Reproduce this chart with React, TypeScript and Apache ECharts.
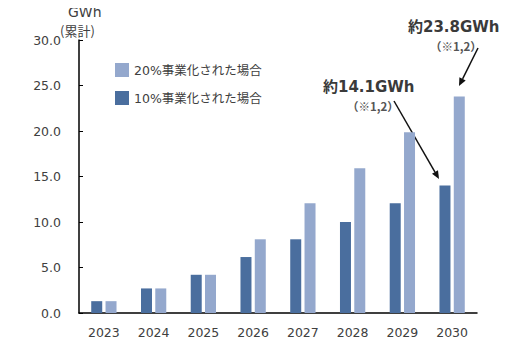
import React, { useEffect, useRef } from "react";
import * as echarts from "echarts";

const years = ["2023", "2024", "2025", "2026", "2027", "2028", "2029", "2030"];
const name10 = "10%事業化された場合";
const name20 = "20%事業化された場合";
const values10 = [1.3, 2.7, 4.2, 6.15, 8.1, 10.0, 12.05, 14.0];
const values20 = [1.3, 2.7, 4.2, 8.1, 12.05, 15.9, 19.85, 23.8];
const unitLabel = "GWh";
const unitSub = "(累計)";
const note1 = "約23.8GWh";
const note2 = "約14.1GWh";
const noteRef = "（※1,2）";

const FONT = "'DejaVu Sans', 'Noto Sans CJK JP', sans-serif";
const NOTE_FONT = "'Noto Sans CJK JP', 'Noto Sans', sans-serif";
const TXT = "#404040";
const DARK = "#4a6e9e";
const LIGHT = "#94a8cd";

export default function App() {
  const ref = useRef<HTMLDivElement>(null);
  useEffect(() => {
    if (!ref.current) return;
    const chart = echarts.init(ref.current, null, { renderer: "svg" });
    const txt = (text: string, x: number, y: number, font: string, fill = TXT) => ({
      type: "text",
      x,
      y,
      style: { text, fill, font, align: "left", verticalAlign: "middle" },
    });
    chart.setOption({
      animation: false,
      backgroundColor: "#ffffff",
      textStyle: { fontFamily: FONT },
      grid: { left: 79, right: 31, top: 40, bottom: 41, containLabel: false },
      legend: {
        orient: "vertical",
        left: 110,
        top: 58,
        itemWidth: 14,
        itemHeight: 14,
        itemGap: 14,
        icon: "rect",
        data: [name20, name10],
        textStyle: { color: TXT, fontSize: 12.5, fontFamily: FONT },
      },
      xAxis: {
        type: "category",
        data: years,
        axisLine: { lineStyle: { color: "#000", width: 1.5 } },
        axisTick: { show: false },
        axisLabel: { color: TXT, fontSize: 12.5, margin: 13, fontFamily: FONT },
      },
      yAxis: {
        type: "value",
        min: 0,
        max: 30,
        interval: 5,
        splitLine: { show: false },
        axisLine: { show: true, lineStyle: { color: "#000", width: 1.5 } },
        axisTick: { show: true, inside: true, length: 4, lineStyle: { color: "#000" } },
        axisLabel: {
          color: TXT,
          fontSize: 12.5,
          margin: 18,
          fontFamily: FONT,
          formatter: (v: number) => v.toFixed(1),
        },
      },
      series: [
        {
          name: name10,
          type: "bar",
          data: values10,
          barWidth: 11,
          barGap: "30%",
          itemStyle: { color: DARK },
        },
        {
          name: name20,
          type: "bar",
          data: values20,
          barWidth: 11,
          itemStyle: { color: LIGHT },
        },
      ],
      graphic: [
        txt(unitLabel, 68, 12, `14px ${FONT}`),
        txt(unitSub, 60, 30, `13px ${NOTE_FONT}`),
        txt(note1, 408, 27, `bold 15px ${FONT}`, "#3a3a3a"),
        txt(noteRef, 430, 46, `bold 11.5px ${NOTE_FONT}`, "#555"),
        txt(note2, 323, 87, `bold 15px ${FONT}`, "#3a3a3a"),
        txt(noteRef, 347, 106, `bold 11.5px ${NOTE_FONT}`, "#555"),
        {
          type: "line",
          shape: { x1: 478, y1: 48, x2: 462.6, y2: 78.9 },
          style: { stroke: "#111", lineWidth: 1.5 },
        },
        {
          type: "polygon",
          shape: { points: [[459, 86], [465.7, 80.4], [459.4, 77.3]] },
          style: { fill: "#111" },
        },
        {
          type: "line",
          shape: { x1: 394, y1: 101, x2: 435, y2: 172.1 },
          style: { stroke: "#111", lineWidth: 1.5 },
        },
        {
          type: "polygon",
          shape: { points: [[439, 179], [438.0, 170.3], [432.0, 173.8]] },
          style: { fill: "#111" },
        },
      ],
    });
    return () => chart.dispose();
  }, []);
  return <div ref={ref} style={{ width: 508, height: 354, margin: -8 }} />;
}
